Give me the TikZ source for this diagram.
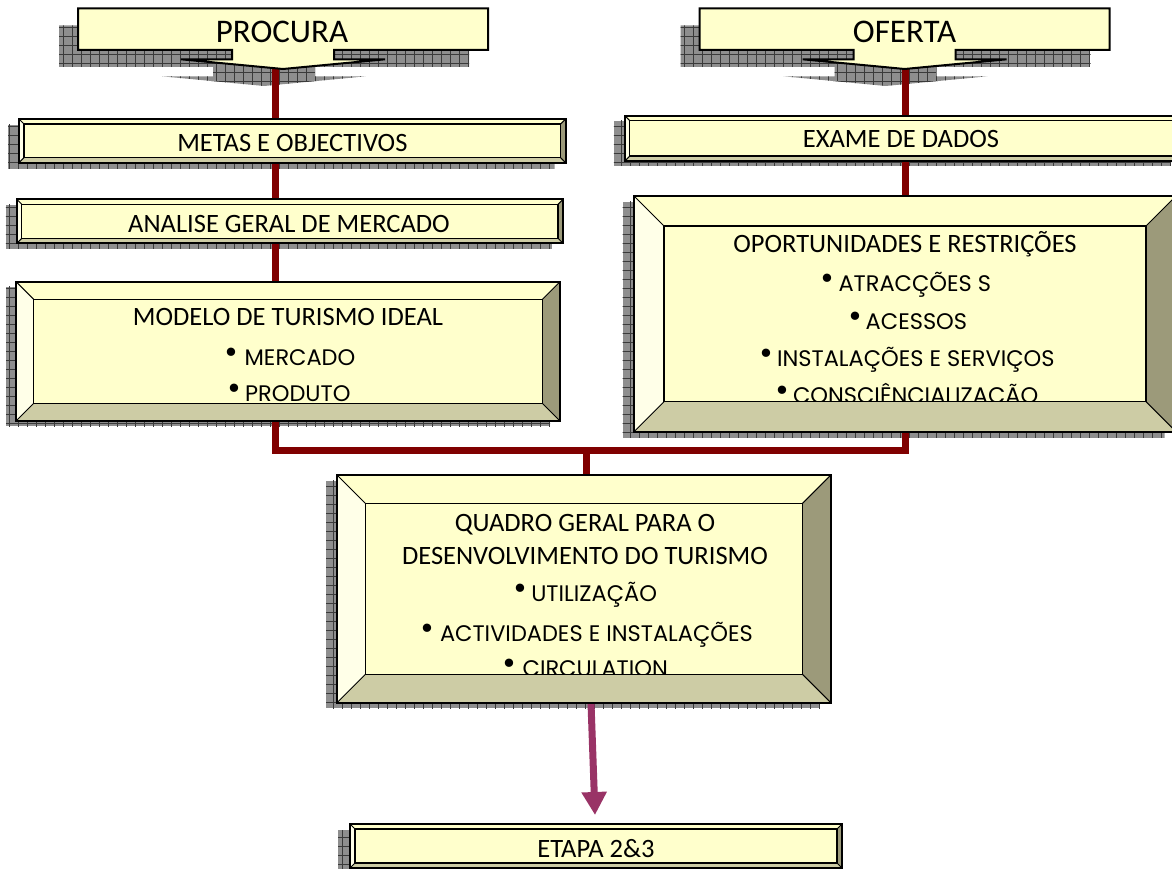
\documentclass[tikz,border=0pt]{standalone}
\usepackage{fontspec}
\setmainfont{Carlito}
\newfontfamily\gothic{Poppins}
\usetikzlibrary{arrows.meta,fit}
\definecolor{face}{HTML}{FFFFCC}
\definecolor{bvtop}{HTML}{FFFFCC}
\definecolor{bvleft}{HTML}{FFFFE8}
\definecolor{bvright}{HTML}{9C9A7A}
\definecolor{bvbot}{HTML}{CDCCA5}
\definecolor{darkred}{HTML}{800000}
\definecolor{plum}{HTML}{993366}
\definecolor{shadowc}{HTML}{8E8E8E}
\definecolor{gridc}{HTML}{3A3A3A}
\newcommand\bul{\raisebox{2pt}{\scalebox{1.5}{\textbullet}}}
\newcommand\dropshadow[3]{%
  \begin{scope}
    \clip ([shift={(#2,#3)}]#1.north west) rectangle ([shift={(#2,#3)}]#1.south east);
    \fill[shadowc] ([shift={(#2,#3)}]#1.north west) rectangle ([shift={(#2,#3)}]#1.south east);
    \draw[gridc,line width=0.8pt,step=9pt] ([shift={(#2-10,#3-10)}]#1.north west) grid ([shift={(#2+10,#3+10)}]#1.south east);
  \end{scope}}
\newcommand\boxface[1]{\fill[face] (#1.north west) rectangle (#1.south east);}
\newcommand\bevel[2]{%
  \coordinate (#1-a) at (#1.north west);
  \coordinate (#1-b) at (#1.north east);
  \coordinate (#1-c) at (#1.south east);
  \coordinate (#1-d) at (#1.south west);
  \coordinate (#1-A) at ([shift={(#2,#2)}]#1.north west);
  \coordinate (#1-B) at ([shift={(-#2,#2)}]#1.north east);
  \coordinate (#1-C) at ([shift={(-#2,-#2)}]#1.south east);
  \coordinate (#1-D) at ([shift={(#2,-#2)}]#1.south west);
  \fill[bvtop] (#1-a)--(#1-b)--(#1-B)--(#1-A)--cycle;
  \fill[bvleft] (#1-a)--(#1-A)--(#1-D)--(#1-d)--cycle;
  \fill[bvright] (#1-b)--(#1-c)--(#1-C)--(#1-B)--cycle;
  \fill[bvbot] (#1-d)--(#1-D)--(#1-C)--(#1-c)--cycle;
  \draw[line width=1.3pt] (#1-A) rectangle (#1-C);
  \draw[line width=1pt] (#1-a)--(#1-A) (#1-b)--(#1-B) (#1-c)--(#1-C) (#1-d)--(#1-D);
  \draw[line width=2pt] (#1-a) rectangle (#1-c);}
\newcommand\calloutpath[3]{({#1-205+#2},{8.3+#3}) -- ({#1+205+#2},{8.3+#3}) -- ({#1+205+#2},{50+#3}) -- ({#1+51+#2},{50+#3}) -- ({#1+51+#2},{59.3+#3}) -- ({#1+102+#2},{59.3+#3}) -- ({#1+#2},{69+#3}) -- ({#1-102+#2},{59.3+#3}) -- ({#1-51+#2},{59.3+#3}) -- ({#1-51+#2},{50+#3}) -- ({#1-205+#2},{50+#3}) -- cycle}
\newcommand\calloutshadow[1]{%
  \begin{scope}
    \clip \calloutpath{#1}{-19}{17};
    \fill[shadowc] \calloutpath{#1}{-19}{17};
    \draw[gridc,line width=0.8pt,step=9pt] ({#1-240},0) grid ({#1+200},100);
  \end{scope}}
\tikzset{
  area/.style={inner sep=0pt,outer sep=0pt},
  head/.style={font=\fontsize{26.5}{30}\selectfont,inner sep=0pt,anchor=base},
  big/.style={font=\fontsize{33}{36}\selectfont,inner sep=0pt,anchor=base},
  item/.style={font=\gothic\fontsize{22.5}{25}\selectfont,inner sep=0pt,anchor=base},
  redline/.style={darkred,line width=7pt},
  plumarrow/.style={plum,line width=7pt,-{Triangle[width=24pt,length=23pt]}},
  callout/.style={fill=face,draw=black,line width=2pt}
}
\begin{document}
\begin{tikzpicture}[x=1pt,y=-1pt]
\useasboundingbox (0,0) rectangle (1172,869);
% box areas
\node[area,fit={(19,119)(565.6,162.7)}] (metas) {};
\node[area,fit={(16.8,199.3)(563,243.3)}] (analise) {};
\node[area,fit={(16,281.7)(560,421)}] (modelo) {};
\node[area,fit={(624.8,115.7)(1182,161)}] (exame) {};
\node[area,fit={(634,196)(1176,431.7)}] (oport) {};
\node[area,fit={(337,475)(830.8,702.7)}] (quadro) {};
\node[area,fit={(350,824)(842,868)}] (etapa) {};
% shadows
\calloutshadow{283}
\calloutshadow{904.6}
\dropshadow{metas}{-11}{6}
\dropshadow{analise}{-11}{5.5}
\dropshadow{modelo}{-10}{5}
\dropshadow{exame}{-11}{5}
\dropshadow{oport}{-11.4}{6}
\dropshadow{quadro}{-11}{5.5}
\dropshadow{etapa}{-12}{6}
% connectors
\coordinate (ptip) at (275,66);
\coordinate (pj) at (275,450);
\coordinate (oj) at (905,450);
\coordinate (otip) at (905,66);
\coordinate (mj) at (586,450);
\coordinate (qout) at (591,703);
\coordinate (etip) at (595,815);
\draw[redline] (ptip) -- (pj) -- (oj) -- (otip);
\draw[redline] (mj) -- (mj |- quadro.north);
\draw[plumarrow] (qout) -- (etip);
% callouts
\draw[callout] \calloutpath{283}{0}{0};
\draw[callout] \calloutpath{904.6}{0}{0};
\node[big] (procura) at (282,43) {PROCURA};
\node[big] (oferta) at (904.6,43) {OFERTA};
% boxes
\boxface{metas}
\node[head] (tmetas) at (292.4,151.8) {METAS E OBJECTIVOS};
\bevel{metas}{5}
\boxface{analise}
\node[head] (tanalise) at (289,232.5) {ANALISE GERAL DE MERCADO};
\bevel{analise}{5}
\boxface{modelo}
\node[head] (tmodelo) at (288,325.2) {MODELO DE TURISMO IDEAL};
\node[item] (m1) at (290,365) {\bul\ MERCADO};
\node[item] (m2) at (289,401.2) {\bul\,PRODUTO};
\bevel{modelo}{17.5}
\boxface{exame}
\node[head] (texame) at (901,147.5) {EXAME DE DADOS};
\bevel{exame}{5}
\boxface{oport}
\node[head] (toport) at (905,252.5) {OPORTUNIDADES E RESTRIÇÕES};
\node[item] (o1) at (906,291.2) {\bul\,ATRACÇÕES S};
\node[item] (o2) at (907.6,329) {\bul\,ACESSOS};
\node[item] (o3) at (907,366) {\bul\,INSTALAÇÕES E SERVIÇOS};
\node[item] (o4) at (906.8,403.2) {\bul\,CONSCIÊNCIALIZAÇÃO};
\bevel{oport}{30}
\boxface{quadro}
\node[head] (tq1) at (585,531.8) {QUADRO GERAL PARA O};
\node[head] (tq2) at (585,564.5) {DESENVOLVIMENTO DO TURISMO};
\node[item] (q1) at (585.3,601.5) {\bul\,UTILIZAÇÃO};
\node[item] (q2) at (586.5,641) {\bul\ ACTIVIDADES E INSTALAÇÕES};
\node[item] (q3) at (585.3,676.5) {\bul\ CIRCULATION};
\bevel{quadro}{28.5}
\boxface{etapa}
\node[head] (tetapa) at (596,857) {ETAPA 2\&3};
\bevel{etapa}{5}
\end{tikzpicture}
\end{document}
